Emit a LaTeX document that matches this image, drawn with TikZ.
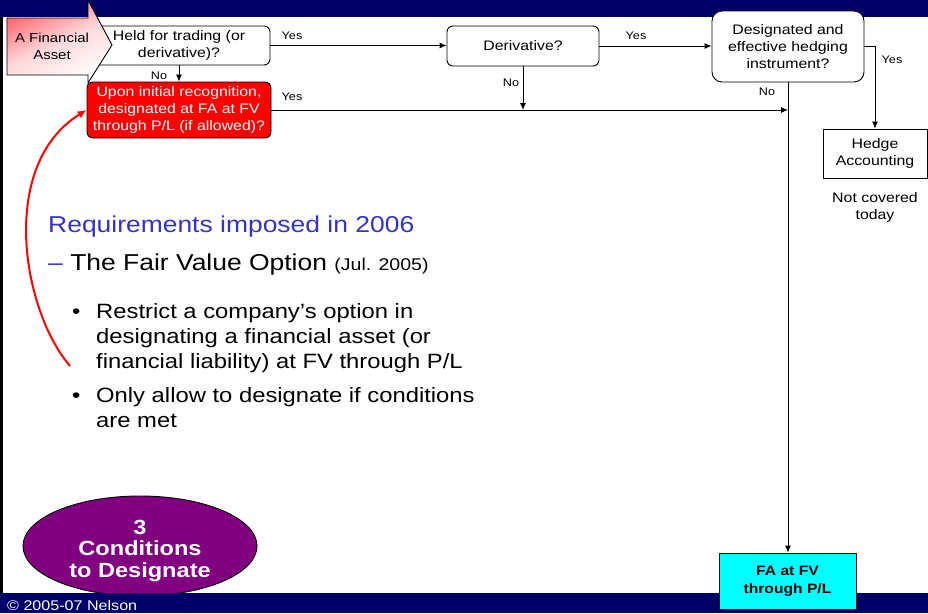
\documentclass[tikz,border=0pt]{standalone}
\usepackage{fontspec}
\setmainfont{Liberation Sans}[FakeStretch=1.15]
\usetikzlibrary{arrows.meta,shapes.geometric}
\definecolor{navy}{RGB}{0,0,102}
\definecolor{reqblue}{RGB}{51,51,204}
\definecolor{condpurple}{RGB}{128,0,128}
\definecolor{boxred}{RGB}{255,0,0}
\definecolor{facyan}{RGB}{0,255,255}
\definecolor{pentred}{RGB}{255,95,105}
\newcommand\myfs[2]{\fontsize{#1}{#2}\selectfont}
\begin{document}
\begin{tikzpicture}[x=1pt,y=-1pt,
  box/.style={draw, line width=0.9pt, fill=white, rounded corners=6pt, align=center, inner sep=0pt, font=\myfs{13.8}{17}},
  lbl/.style={font=\myfs{11}{13}, inner sep=0pt},
  conn/.style={line width=0.9pt, -{Latex[length=7pt,width=6pt]}},
  para/.style={anchor=base west, inner sep=0pt, align=left},
]
\useasboundingbox (0,0) rectangle (928,613);
\fill[white] (0,0) rectangle (928,613);
\fill[navy] (0,0) rectangle (928,17);
\fill[black] (0,17) rectangle (3,593);

% flowchart boxes
\node[box, minimum width=182pt, minimum height=39pt] (held) at (179,45.5) {Held for trading (or\\derivative)?};
\path[draw, line width=0.9pt, top color=pentred, bottom color=white, middle color=pentred!25!white, shading angle=25]
  (7,18) -- (88,18) -- (88,0) -- (112,45) -- (88,83) -- (88,75) -- (7,75) -- cycle;
\node[font=\myfs{13}{17}, align=center, inner sep=0pt] (asset) at (52,46) {A Financial\\Asset};
\node[box, fill=boxred, text=white, minimum width=184pt, minimum height=56pt] (desigfv) at (179,110) {Upon initial recognition,\\designated at FA at FV\\through P/L (if allowed)?};
\node[box, minimum width=152pt, minimum height=40pt] (deriv) at (523,46) {Derivative?};
\node[box, rounded corners=10pt, minimum width=152pt, minimum height=71pt] (hedgeq) at (788,46.5) {Designated and\\effective hedging\\instrument?};
\node[box, rounded corners=0pt, minimum width=104pt, minimum height=49pt] (hedge) at (875,153.5) {Hedge\\Accounting};
\node[font=\myfs{13.8}{17}, align=center, inner sep=0pt] (notcov) at (875,207) {Not covered\\today};

% connectors
\draw[conn] (held.east) -- (held.east -| deriv.west);
\draw[conn] (deriv.east) -- (deriv.east -| hedgeq.west);
\draw[conn] (hedgeq.east) -| (hedge.north);
\draw[conn] (held) -- (desigfv);
\coordinate (join) at (hedgeq.south |- desigfv.east);
\draw[conn] (desigfv.east) -- (join);
\draw[conn] (deriv.south) -- (deriv.south |- desigfv.east);

% labels
\node[lbl] (y1) at (292,36) {Yes};
\node[lbl] (y2) at (292,97) {Yes};
\node[lbl] (n1) at (159,76) {No};
\node[lbl] (n2) at (511,83) {No};
\node[lbl] (y3) at (636,36) {Yes};
\node[lbl] (y4) at (892,60) {Yes};
\node[lbl] (n3) at (767,92) {No};

% red curved arrow
\coordinate (cstart) at (70,366);
\draw[boxred, line width=2pt, -{Latex[length=9pt,width=8pt]}] (cstart) .. controls (22,310) and (-2,165) .. (desigfv.west);

% text
\node[para, text=reqblue, font=\myfs{23}{27}] (req) at (48,232) {Requirements imposed in 2006};
\node[para, font=\myfs{23}{27}] (fvo) at (48,270) {\textcolor{reqblue}{–} The Fair Value Option {\myfs{17}{20}(Jul. 2005)}};
\node[para, font=\myfs{20.7}{25}] (b1) at (72,318) {•};
\node[para, font=\myfs{20.7}{25}] (t1) at (96,368) {Restrict a company’s option in\\designating a financial asset (or\\financial liability) at FV through P/L};
\node[para, font=\myfs{20.7}{25}] (b2) at (72,402) {•};
\node[para, font=\myfs{20.7}{25}] (t2) at (96,427) {Only allow to designate if conditions\\are met};

% ellipse
\node[ellipse, draw, line width=0.9pt, fill=condpurple, minimum width=234pt, minimum height=100pt] (condshape) at (140,546) {};
\node[text=white, font=\bfseries\myfs{20.5}{21.5}, align=center, inner sep=0pt] (cond) at (140,551) {3\\Conditions\\to Designate};

% bottom bar
\fill[navy] (0,593) rectangle (928,613);
\node[anchor=base west, text=white, font=\myfs{14}{16}, inner sep=0pt] (copy) at (7,610) {© 2005-07 Nelson};

\node[box, rounded corners=0pt, fill=facyan, font=\bfseries\myfs{13.6}{18}, minimum width=137pt, minimum height=56pt] (fa) at (787.5,581) {FA at FV\\through P/L};
\draw[conn] (hedgeq.south) -- (hedgeq.south |- fa.north);
\end{tikzpicture}
\end{document}
